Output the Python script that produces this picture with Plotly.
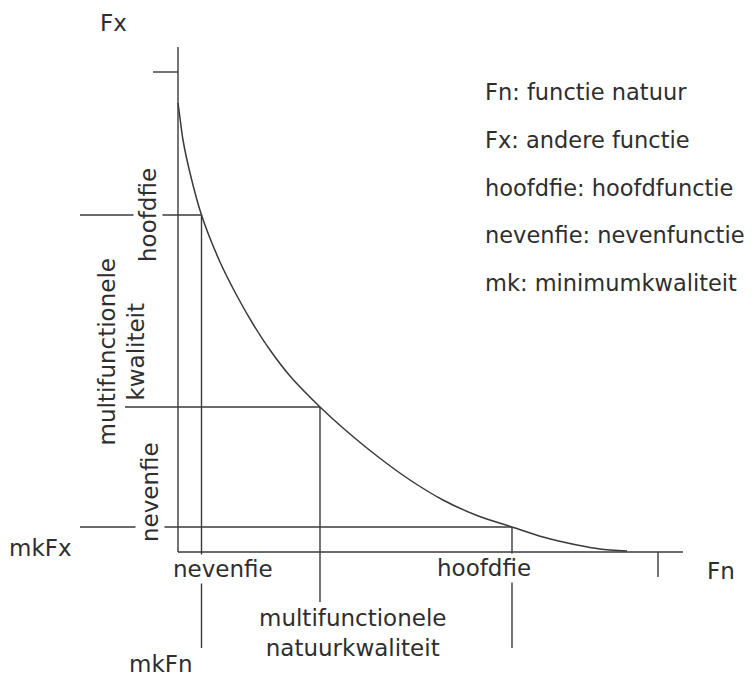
import plotly.graph_objects as go

# Curve Fx = f(Fn) (abstract units)
fn_curve = [0.0, 0.05, 0.1, 0.24, 0.47, 0.84, 1.17, 1.5, 1.84, 2.24, 2.84, 3.3, 3.98,
             4.64, 5.3, 5.98, 6.68, 7.3, 7.98, 8.44, 8.98]
fx_curve = [8.98, 8.6, 8.24, 7.58, 6.74, 5.8, 5.14, 4.56, 4.04, 3.52, 2.9, 2.48, 1.92,
             1.44, 1.04, 0.73, 0.5, 0.3, 0.14, 0.06, 0.02]

# Key points on the curve: (Fn, Fx)
point_names = ["nevenfie_Fn", "multifunctioneel", "hoofdfie_Fn"]
point_fn = [0.47, 2.84, 6.68]
point_fx = [6.74, 2.9, 0.5]

# Where the guide lines end outside the axes
guide_h_start = [-1.96, -1.06, -1.96]   # left end of horizontal guides
guide_v_end = [-1.92, -1.0, -1.92]      # bottom end of vertical guides

axis_max = 10.1
tick_fx_top = 9.6
tick_fn_right = 9.6

legend_lines = ["Fn: functie natuur", "Fx: andere functie", "hoofdfie: hoofdfunctie",
                "nevenfie: nevenfunctie", "mk: minimumkwaliteit"]
legend_y = [9.2, 8.24, 7.28, 6.34, 5.38]

LINE = "#3a3a3a"
TXT = "#2e2e2e"
FONT = "DejaVu Sans"

fig = go.Figure()

def seg(xs, ys, w=1.4):
    fig.add_trace(go.Scatter(x=xs, y=ys, mode="lines",
                             line=dict(color=LINE, width=w),
                             hoverinfo="skip", showlegend=False))

# axes
seg([0, 0], [0, axis_max])
seg([0, axis_max], [0, 0])
# small end ticks
seg([-0.5, 0], [tick_fx_top, tick_fx_top])
seg([tick_fn_right, tick_fn_right], [0, -0.5])

# guide lines
for fn, fx, hs, ve in zip(point_fn, point_fx, guide_h_start, guide_v_end):
    seg([hs, fn], [fx, fx])
    seg([fn, fn], [fx, ve])

# curve
fig.add_trace(go.Scatter(x=fn_curve, y=fx_curve, mode="lines",
                         line=dict(color=LINE, width=1.5, shape="spline", smoothing=0.8),
                         hoverinfo="skip", showlegend=False))

def label(text, x, y, angle=0, bg=None, xanchor="center", size=23):
    fig.add_annotation(x=x, y=y, text=text, showarrow=False, textangle=angle,
                       xanchor=xanchor, yanchor="middle",
                       font=dict(family=FONT, size=size, color=TXT),
                       bgcolor=bg, borderpad=1)

label("Fx", -1.3, 10.58)
label("Fn", 10.86, -0.38)
label("mkFx", -2.76, 0.08)
label("mkFn", -0.34, -2.24)
label("hoofdfie", -0.6, 6.74, angle=-90, bg="white")
label("nevenfie", -0.56, 1.2, angle=-90, bg="white")
label("multifunctionele<br>kwaliteit", -1.13, 4.0, angle=-90)
label("nevenfie", 0.9, -0.34, bg="white")
label("hoofdfie", 6.12, -0.32, bg="white")
label("multifunctionele<br>natuurkwaliteit", 3.48, -1.62)

for t, y in zip(legend_lines, legend_y):
    label(t, 6.1, y, xanchor="left", size=22.5)

# page has an 8px body margin: the figure is 747x670 placed at (8, 8)
fig.update_layout(
    width=747, height=670,
    margin=dict(l=0, r=0, t=0, b=0),
    paper_bgcolor="white", plot_bgcolor="white",
    xaxis=dict(range=[-3.4, 11.54], visible=False, fixedrange=True),
    yaxis=dict(range=[-2.52, 10.88], visible=False, fixedrange=True),
    showlegend=False,
)

fig.write_html("out.html")
